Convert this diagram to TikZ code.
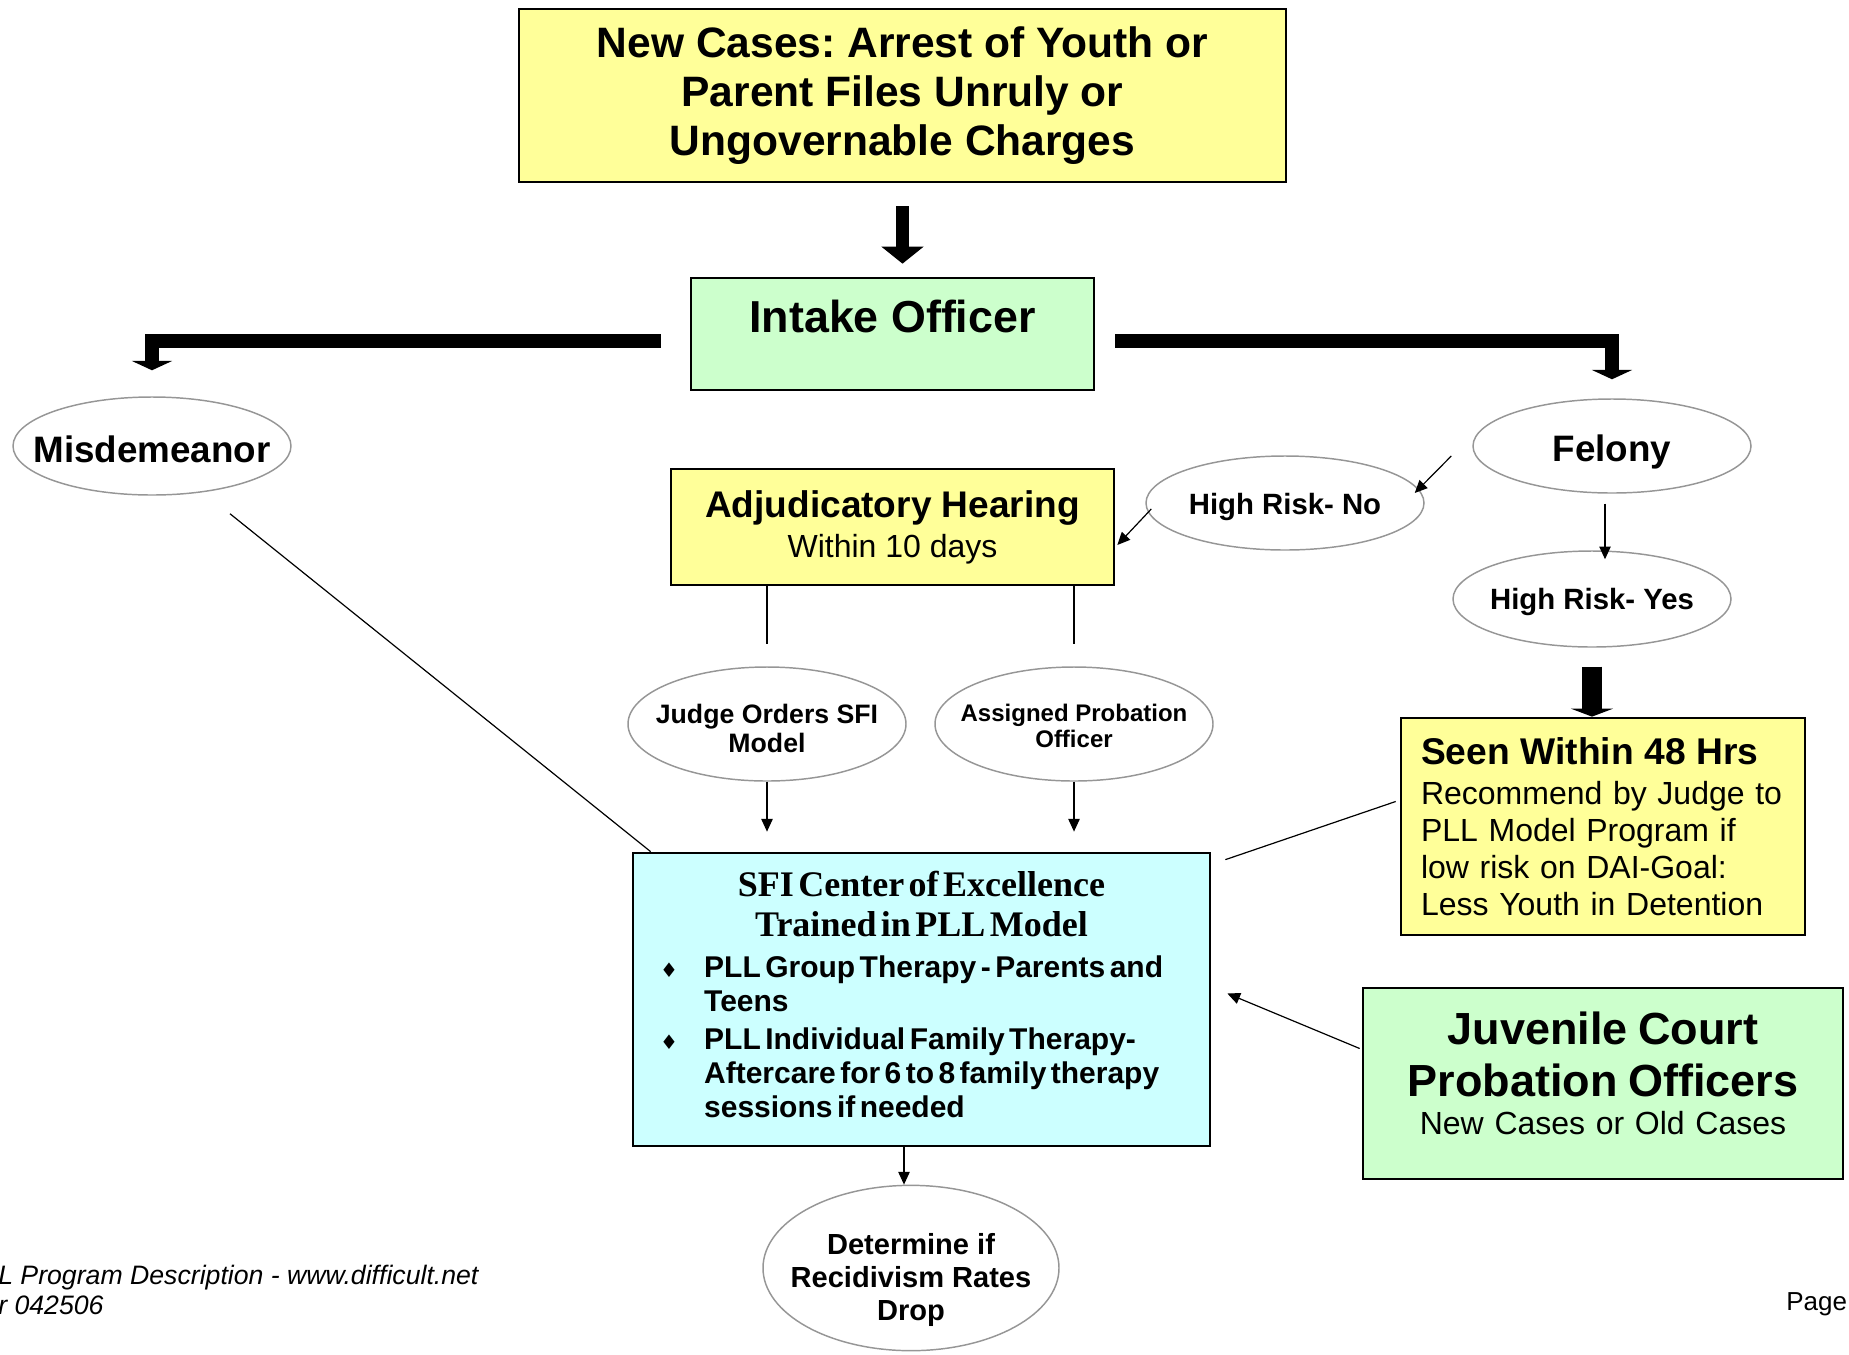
\documentclass[tikz,border=0pt]{standalone}
\usepackage{fontspec}
\setmainfont{Liberation Sans}
\newfontfamily\serifbf{Liberation Serif}
\newfontfamily\symbfont{DejaVu Sans}
\usepackage{tikz}
\usetikzlibrary{arrows.meta,shapes.geometric}
\AtBeginDocument{\frenchspacing}

\definecolor{boxyellow}{RGB}{255,255,153}
\definecolor{boxgreen}{RGB}{204,255,204}
\definecolor{boxcyan}{RGB}{204,255,255}
\definecolor{ovalgray}{RGB}{150,150,150}

\begin{document}
\begin{tikzpicture}[x=0.75pt,y=0.75pt,yscale=-1,
  box/.style={draw=black,line width=2pt,inner sep=0pt},
  oval/.style={draw=ovalgray,line width=1.1pt,ellipse,inner sep=0pt},
  thinline/.style={line width=0.9pt},
  thinarrow/.style={line width=0.9pt,-{Triangle[width=8.5pt,length=9.5pt]}},
  bigarrow/.style={line width=9.75pt,-{Triangle[width=31pt,length=12.75pt]}},
  bentarrow/.style={line width=10pt,line join=miter,-{Triangle[width=30pt,length=7pt]}},
  droparrow/.style={line width=15pt,-{Triangle[width=31.5pt,length=6pt]}}]
\useasboundingbox (0,0) rectangle (1849,1354);

%Boxes
\node[box,fill=boxyellow,minimum width=575.3pt,minimum height=129.8pt,align=center,font=\bfseries\fontsize{31.9pt}{37pt}\selectfont] (newcases) at (902.5,95.5) {New Cases: Arrest of Youth or\\Parent Files Unruly or\\Ungovernable Charges};
\node[box,fill=boxgreen,minimum width=302.3pt,minimum height=84pt,label={[font=\bfseries\fontsize{33.6pt}{38pt}\selectfont,yshift=13.5pt]center:Intake Officer}] (intake) at (892.5,334) {};
\node[box,fill=boxyellow,minimum width=332.3pt,minimum height=87pt,align=center,font=\fontsize{24pt}{30pt}\selectfont] (adj) at (892.5,527) {{\bfseries\fontsize{27.8pt}{30pt}\selectfont Adjudicatory Hearing}\\Within 10 days};
\node[box,fill=boxyellow,minimum width=303pt,minimum height=162.8pt,text width=273pt,align=left,font=\fontsize{24pt}{27.75pt}\selectfont] (seen) at (1603,826.5) {{\bfseries\fontsize{27.9pt}{30pt}\selectfont Seen Within 48 Hrs\par}\vspace{2pt}Recommend by Judge to\\PLL Model Program if\\low risk on DAI-Goal:\\Less Youth in Detention};
\node[box,fill=boxgreen,minimum width=360pt,minimum height=143.3pt,label={[text width=340pt,align=center,font=\fontsize{24pt}{29pt}\selectfont,yshift=7.5pt]center:{{\bfseries\fontsize{33.75pt}{39pt}\selectfont Juvenile Court\\Probation Officers\endgraf}New Cases or Old Cases}}] (juv) at (1603,1083.5) {};
\node[box,fill=boxcyan,minimum width=432.8pt,minimum height=219.8pt,text width=430pt,align=left] (sfi) at (921.5,999.5)
 {{\centering\serifbf\bfseries\fontsize{27pt}{30pt}\selectfont SFI Center of Excellence\\Trained in PLL Model\par}%
  \vspace{5pt}%
  {\bfseries\fontsize{22.5pt}{25.5pt}\selectfont\leftskip=52pt
   \noindent\llap{\makebox[33pt][l]{\symbfont\fontsize{15pt}{15pt}\selectfont ♦}}\makebox[354pt][s]{PLL Group Therapy - Parents and}\\Teens\par
   \vspace{3pt}%
   \noindent\llap{\makebox[33pt][l]{\symbfont\fontsize{15pt}{15pt}\selectfont ♦}}PLL Individual Family Therapy-\\\makebox[354pt][s]{Aftercare for 6 to 8 family therapy}\\sessions if needed\par}%
  \kern7.5pt\hrule height0pt width0pt};

%Ovals
\node[oval,minimum width=208.5pt,minimum height=73.5pt,label={[font=\bfseries\fontsize{27.6pt}{30pt}\selectfont,yshift=-2.6pt]center:Misdemeanor}] (misd) at (152,446) {};
\node[oval,minimum width=208.5pt,minimum height=70.5pt,label={[font=\bfseries\fontsize{27.6pt}{30pt}\selectfont,yshift=-4.5pt]center:Felony}] (felony) at (1612,446) {};
\node[oval,minimum width=208.5pt,minimum height=70.5pt,label={[font=\bfseries\fontsize{22pt}{25pt}\selectfont,yshift=-3pt]center:High Risk- No}] (hrno) at (1285,503) {};
\node[oval,minimum width=208.5pt,minimum height=72pt,label={[font=\bfseries\fontsize{22pt}{25pt}\selectfont,yshift=-2pt]center:High Risk- Yes}] (hryes) at (1592,599) {};
\node[oval,minimum width=208.5pt,minimum height=85.5pt,label={[align=center,font=\bfseries\fontsize{20pt}{22pt}\selectfont,yshift=-3.5pt]center:Judge Orders SFI\\Model}] (judge) at (767,724) {};
\node[oval,minimum width=208.5pt,minimum height=85.5pt,label={[align=center,font=\bfseries\fontsize{18pt}{20pt}\selectfont,yshift=-1.5pt]center:Assigned Probation\\Officer}] (assigned) at (1074,724) {};
\node[oval,minimum width=222pt,minimum height=124pt,label={[align=center,font=\bfseries\fontsize{21.8pt}{25pt}\selectfont,yshift=-9pt]center:Determine if\\Recidivism Rates\\Drop}] (determine) at (911,1268) {};

%Block arrows
\draw[bigarrow] ([yshift=17.25pt]newcases.south) -- ([yshift=-9.75pt]newcases.south |- intake.north);
\draw[bentarrow] ([xshift=-21.75pt,yshift=5.25pt]intake.west) -| ([yshift=-19.5pt]misd.north);
\draw[bentarrow] ([xshift=15pt,yshift=5.25pt]intake.east) -| ([yshift=-14.25pt]felony.north);
\draw[droparrow] ([yshift=14.25pt]hryes.south) -- (hryes.south |- seen.north);

%Thin connectors
\draw[thinarrow] ([shift={(-21,10)}]felony.west) -- ([shift={(-10,-10)}]hrno.east);
\draw[thinarrow] ([shift={(6,6)}]hrno.west) -- ([shift={(2,18)}]adj.east);
\draw[thinarrow] ([shift={(-7,10)}]felony.south) -- ([shift={(13,9)}]hryes.north);
\draw[thinline] (adj.south -| judge.north) -- ([yshift=-16.5pt]judge.north);
\draw[thinline] (adj.south -| assigned.north) -- ([yshift=-16.5pt]assigned.north);
\draw[thinarrow,shorten >=15pt] (judge.south) -- (judge.south |- sfi.north);
\draw[thinarrow,shorten >=15pt] (assigned.south) -- (assigned.south |- sfi.north);
\draw[thinline] ([shift={(78,18)}]misd.south) -- ([xshift=14.25pt]sfi.north west);
\draw[thinline] ([shift={(-4,-25)}]seen.west) -- ([shift={(14,8)}]sfi.north east);
\draw[thinarrow] ([shift={(-2,-35)}]juv.west) -- ([shift={(16,-6)}]sfi.east);
\draw[thinarrow] ([xshift=-5.25pt]sfi.south -| determine.north) -- ([xshift=-5.25pt]determine.north);

%Footer
\node[anchor=west,align=left,inner sep=0pt,font=\itshape\fontsize{20pt}{22pt}\selectfont] (footer) at (-2,1290) {L Program Description - www.difficult.net\\r 042506};
\node[anchor=west,inner sep=0pt,font=\fontsize{19.5pt}{22pt}\selectfont] (pagenum) at (1786,1304) {Page};

\end{tikzpicture}
\end{document}
